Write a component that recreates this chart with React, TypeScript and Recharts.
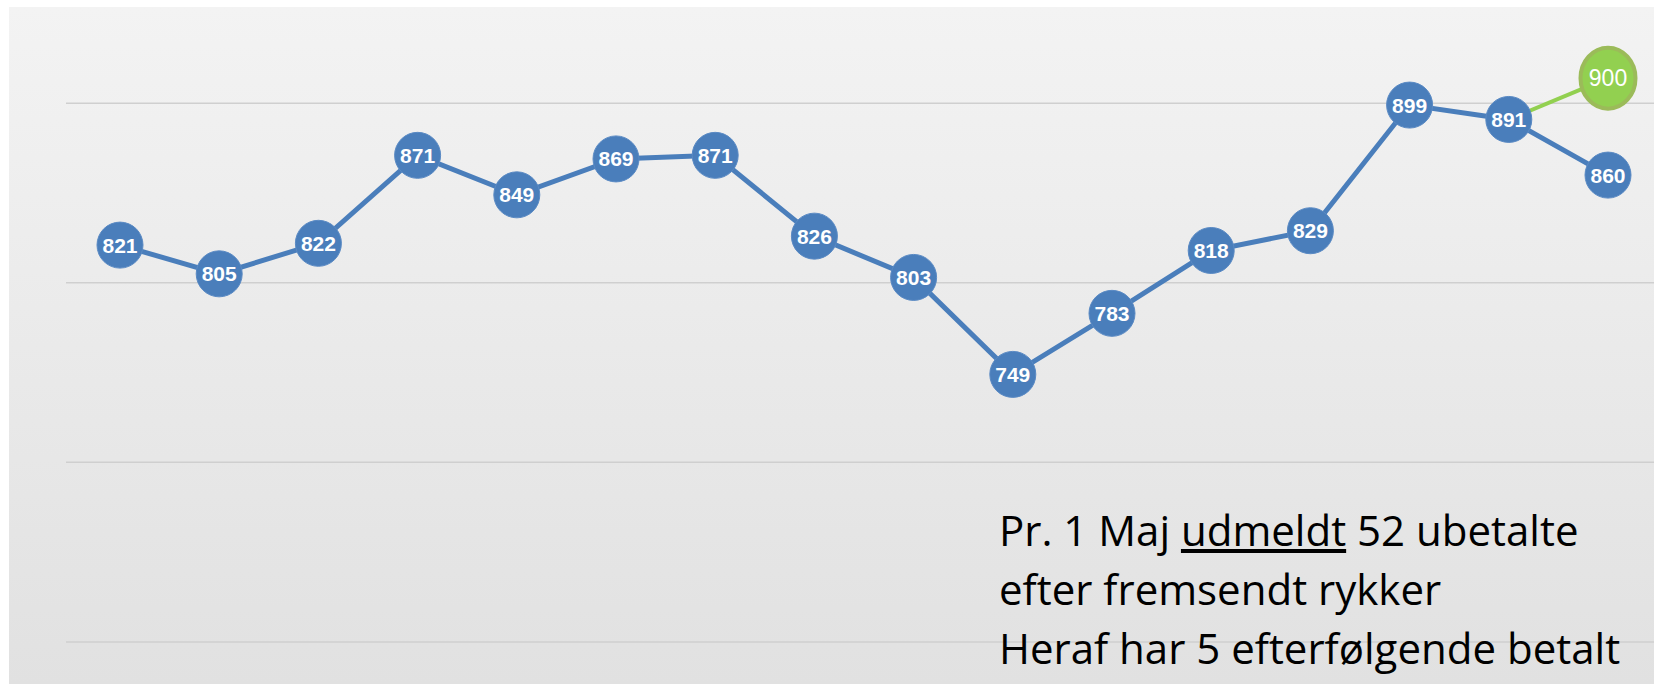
import { LineChart, Line, XAxis, YAxis, CartesianGrid } from 'recharts';

// 16 consecutive counts (periods are not labelled in the source)
const periods = ['1', '2', '3', '4', '5', '6', '7', '8', '9', '10', '11', '12', '13', '14', '15', '16'];
const members = [821, 805, 822, 871, 849, 869, 871, 826, 803, 749, 783, 818, 829, 899, 891, 860];
// green forecast marker: starts at the 891 point, drawn a bit above the 900 line in the source
const target = [null, null, null, null, null, null, null, null, null, null, null, null, null, null, 891, 914];
const targetLabels = ['', '', '', '', '', '', '', '', '', '', '', '', '', '', '', '900'];
const gridValues = [600, 700, 800, 900];

const noteLines = ['efter fremsendt rykker', 'Heraf har 5 efterfølgende betalt'];

const data = periods.map((p, i) => ({
  period: p,
  members: members[i],
  target: target[i],
  targetLabel: targetLabels[i],
}));

const BLUE = '#4a7ebb';
const GREEN = '#92d050';

const BlueDot = (props: any) => {
  const { cx, cy, index, payload } = props;
  if (cx == null || cy == null) return <g key={`b${index}`} />;
  return (
    <g key={`b${index}`}>
      <circle cx={cx} cy={cy} r={23} fill={BLUE} stroke="#5a8ac4" strokeWidth={1} />
      <text
        x={cx}
        y={cy}
        dy="0.36em"
        textAnchor="middle"
        fill="#fff"
        fontSize={21}
        fontWeight={700}
        fontFamily="'Liberation Sans', Arial, sans-serif"
      >
        {payload.members}
      </text>
    </g>
  );
};

const GreenDot = (props: any) => {
  const { cx, cy, index, payload } = props;
  if (cx == null || cy == null || !payload.targetLabel) return <g key={`g${index}`} />;
  return (
    <g key={`g${index}`}>
      <ellipse cx={cx} cy={cy} rx={27.5} ry={30.5} fill={GREEN} stroke="#9bbb59" strokeWidth={4} />
      <text
        x={cx}
        y={cy}
        dy="0.36em"
        textAnchor="middle"
        fill="#fff"
        fontSize={23}
        fontFamily="'Liberation Sans', Arial, sans-serif"
      >
        {payload.targetLabel}
      </text>
    </g>
  );
};

export default function App() {
  return (
    <div style={{ position: 'relative', width: 1654, height: 684, background: '#fff', overflow: 'hidden' }}>
      <style>{'body{margin:0}'}</style>
      <div
        style={{
          position: 'absolute',
          left: 9,
          top: 7,
          width: 1645,
          height: 677,
          background: 'linear-gradient(180deg, #f3f3f3 0%, #eaeaea 50%, #e1e1e1 100%)',
        }}
      />
      <div style={{ position: 'absolute', left: 0, top: 0 }}>
        <LineChart width={1654} height={684} data={data} margin={{ top: 13.5, right: 0, bottom: 6.2, left: 66 }}>
          <CartesianGrid vertical={false} horizontalValues={gridValues} stroke="#cfcfcf" strokeWidth={1.5} />
          <XAxis dataKey="period" hide padding={{ left: 54, right: 46 }} />
          <YAxis hide domain={[580, 950]} ticks={gridValues} />
          <Line
            dataKey="target"
            stroke={GREEN}
            strokeWidth={4}
            dot={GreenDot}
            activeDot={false}
            connectNulls={false}
            isAnimationActive={false}
          />
          <Line
            dataKey="members"
            stroke={BLUE}
            strokeWidth={5}
            dot={BlueDot}
            activeDot={false}
            isAnimationActive={false}
          />
        </LineChart>
      </div>
      <div
        style={{
          position: 'absolute',
          left: 999,
          top: 500,
          fontFamily: "'Open Sans', sans-serif",
          fontSize: 42,
          lineHeight: '59px',
          color: '#000',
          whiteSpace: 'nowrap',
        }}
      >
        <div>
          Pr. 1 Maj <u>udmeldt</u> 52 ubetalte
        </div>
        {noteLines.map((t) => (
          <div key={t}>{t}</div>
        ))}
      </div>
    </div>
  );
}
